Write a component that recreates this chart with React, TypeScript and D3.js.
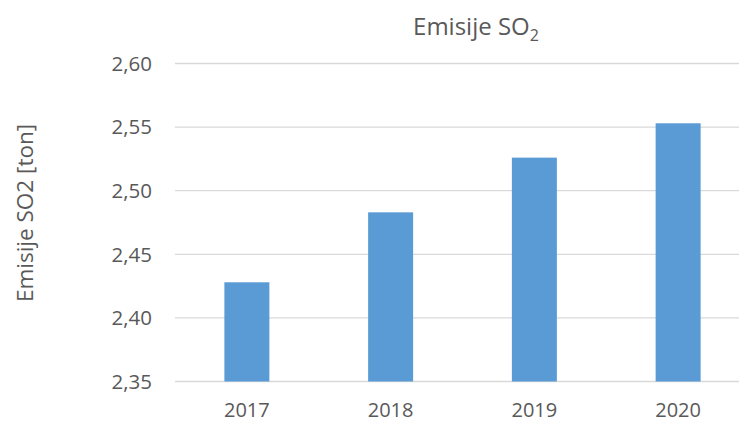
import React, { useEffect, useRef } from 'react';
import * as d3 from 'd3';

const years = ['2017', '2018', '2019', '2020'];
const emissions = [2.428, 2.483, 2.526, 2.553];
const yTicks = [2.35, 2.4, 2.45, 2.5, 2.55, 2.6];

const App: React.FC = () => {
  const svgRef = useRef<SVGSVGElement>(null);

  useEffect(() => {
    if (!svgRef.current) return;
    const svg = d3.select(svgRef.current);
    svg.selectAll('*').remove();

    const width = 739;
    const height = 421;
    const margin = { top: 63.5, right: -11, bottom: 39.5, left: 175 };
    const font = '"Open Sans", "Noto Sans", sans-serif';
    const textColor = '#595959';

    const x = d3
      .scaleBand()
      .domain(years)
      .range([margin.left, width - margin.right])
      .paddingInner(0.687)
      .paddingOuter(0.3435);

    const y = d3
      .scaleLinear()
      .domain([2.35, 2.6])
      .range([height - margin.bottom, margin.top]);

    // Gridlines
    svg
      .append('g')
      .selectAll('line')
      .data(yTicks)
      .enter()
      .append('line')
      .attr('x1', margin.left)
      .attr('x2', width)
      .attr('y1', d => y(d))
      .attr('y2', d => y(d))
      .attr('stroke', '#d9d9d9')
      .attr('stroke-width', 1.3);

    // Y tick labels
    svg
      .append('g')
      .selectAll('text')
      .data(yTicks)
      .enter()
      .append('text')
      .attr('x', 152)
      .attr('y', d => y(d))
      .attr('dy', '0.36em')
      .attr('text-anchor', 'end')
      .attr('fill', textColor)
      .style('font-family', font)
      .style('font-size', '20.5px')
      .text(d => d3.format('.2f')(d).replace('.', ','));

    // Bars
    svg
      .append('g')
      .selectAll('rect')
      .data(emissions)
      .enter()
      .append('rect')
      .attr('x', (_, i) => x(years[i]) ?? 0)
      .attr('y', d => y(d))
      .attr('width', x.bandwidth())
      .attr('height', d => y(2.35) - y(d))
      .attr('fill', '#5b9bd5');

    // X labels
    svg
      .append('g')
      .selectAll('text')
      .data(years)
      .enter()
      .append('text')
      .attr('x', d => (x(d) ?? 0) + x.bandwidth() / 2)
      .attr('y', 417)
      .attr('text-anchor', 'middle')
      .attr('fill', textColor)
      .style('font-family', font)
      .style('font-size', '20px')
      .text(d => d);

    // Title
    const title = svg
      .append('text')
      .attr('x', 476)
      .attr('y', 35)
      .attr('text-anchor', 'middle')
      .attr('fill', textColor)
      .style('font-family', font)
      .style('font-size', '24px');
    title.append('tspan').text('Emisije SO');
    title
      .append('tspan')
      .attr('dy', 6)
      .style('font-size', '16px')
      .text('2');

    // Y axis title
    svg
      .append('text')
      .attr('transform', 'translate(33,213) rotate(-90)')
      .attr('text-anchor', 'middle')
      .attr('fill', textColor)
      .style('font-family', font)
      .style('font-size', '22.5px')
      .text('Emisije SO2 [ton]');
  }, []);

  return (
    <svg
      ref={svgRef}
      width={739}
      height={421}
      style={{ position: 'absolute', left: 0, top: 0, background: '#fff' }}
    />
  );
};

export default App;
